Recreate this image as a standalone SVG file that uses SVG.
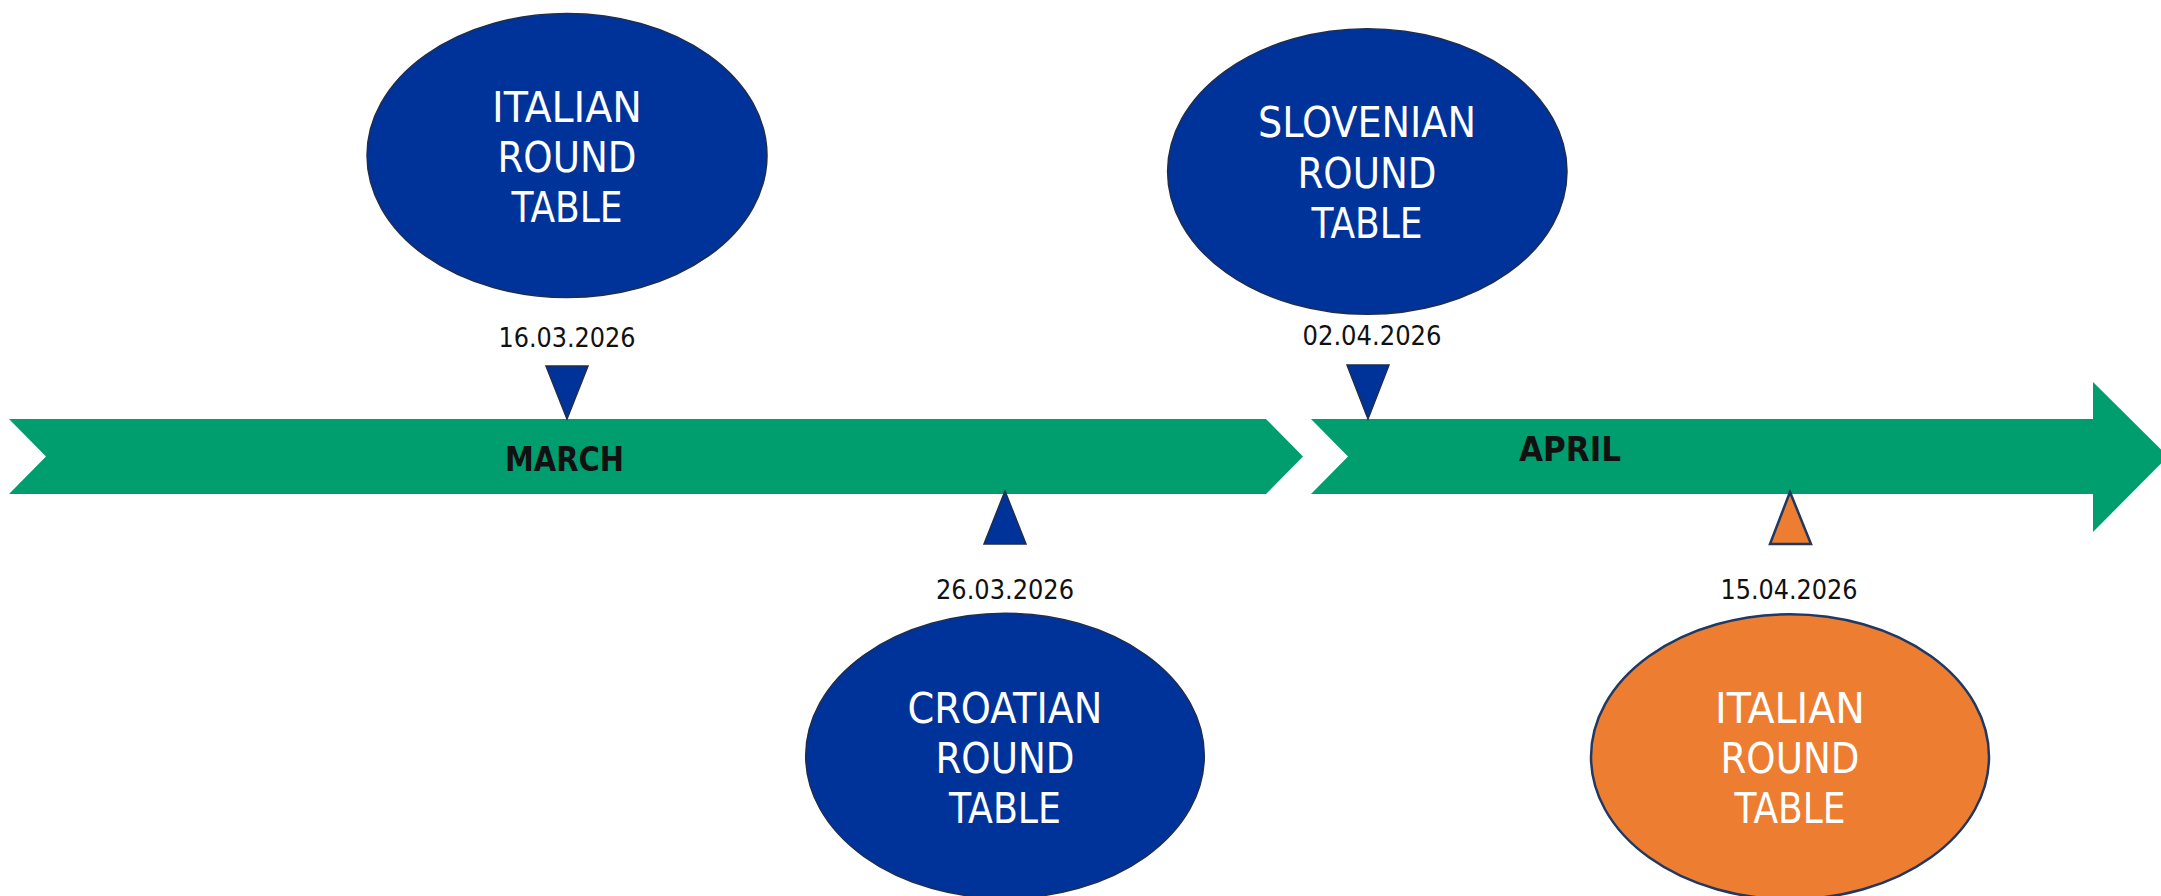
<svg xmlns="http://www.w3.org/2000/svg" width="2161" height="896" viewBox="0 0 2161 896">
<style>
.band{fill:#009E6F}
.month{font-family:"DejaVu Sans Condensed","DejaVu Sans",sans-serif;font-stretch:condensed;font-weight:bold;font-size:33px;fill:#111}
.date{font-family:"DejaVu Sans Condensed","DejaVu Sans",sans-serif;font-stretch:condensed;font-size:27px;fill:#111;text-anchor:middle}
.blue{fill:#003399;stroke:#1F2D4F;stroke-width:1.5}
.orange{fill:#ED7D31;stroke:#1F3864;stroke-width:2.5}
.lbl{font-family:"DejaVu Sans Condensed","DejaVu Sans",sans-serif;font-stretch:condensed;font-size:42px;fill:#fff;text-anchor:middle}
</style>
<rect width="2161" height="896" fill="#fff"/>
<g id="timeline">
<g id="march">
<polygon class="band" points="9,419 1266,419 1303,456.5 1266,494 9,494 46,456.5"/>
<text class="month" x="505" y="470.5" textLength="119" lengthAdjust="spacingAndGlyphs">MARCH</text>
</g>
<g id="april">
<polygon class="band" points="1311,419 2093,419 2093,382 2168,456.5 2093,532 2093,494 1311,494 1348,456.5"/>
<text class="month" x="1519" y="461" textLength="102" lengthAdjust="spacingAndGlyphs">APRIL</text>
</g>
</g>
<g id="connectors">
<polygon class="blue" points="546,366 588,366 567,419"/>
<polygon class="blue" points="1347,365 1389,365 1368,419"/>
<polygon class="blue" points="1005,491 1026,544 984,544"/>
<polygon class="orange" points="1790,492 1811,544 1770,544"/>
</g>
<g id="event-italian-1">
<ellipse class="blue" cx="567" cy="155.5" rx="200" ry="142"/>
<text class="lbl" x="567" y="121.7" textLength="150" lengthAdjust="spacingAndGlyphs">ITALIAN</text>
<text class="lbl" x="567" y="171.7" textLength="139" lengthAdjust="spacingAndGlyphs">ROUND</text>
<text class="lbl" x="567" y="221.7" textLength="111" lengthAdjust="spacingAndGlyphs">TABLE</text>
<text class="date" x="567" y="346.7" textLength="137" lengthAdjust="spacingAndGlyphs">16.03.2026</text>
</g>
<g id="event-slovenian">
<ellipse class="blue" cx="1367.3" cy="171.5" rx="199.7" ry="142.8"/>
<text class="lbl" x="1367" y="137.3" textLength="218" lengthAdjust="spacingAndGlyphs">SLOVENIAN</text>
<text class="lbl" x="1367" y="188.3" textLength="139" lengthAdjust="spacingAndGlyphs">ROUND</text>
<text class="lbl" x="1367" y="238.3" textLength="111" lengthAdjust="spacingAndGlyphs">TABLE</text>
<text class="date" x="1372" y="345" textLength="139" lengthAdjust="spacingAndGlyphs">02.04.2026</text>
</g>
<g id="event-croatian">
<ellipse class="blue" cx="1005" cy="755.8" rx="199.3" ry="142.5"/>
<text class="lbl" x="1005" y="722.7" textLength="195" lengthAdjust="spacingAndGlyphs">CROATIAN</text>
<text class="lbl" x="1005" y="773.3" textLength="139" lengthAdjust="spacingAndGlyphs">ROUND</text>
<text class="lbl" x="1005" y="823.3" textLength="112" lengthAdjust="spacingAndGlyphs">TABLE</text>
<text class="date" x="1005" y="599.3" textLength="138" lengthAdjust="spacingAndGlyphs">26.03.2026</text>
</g>
<g id="event-italian-2">
<ellipse class="orange" cx="1790" cy="756.8" rx="199" ry="142.5"/>
<text class="lbl" x="1790" y="722.7" textLength="150" lengthAdjust="spacingAndGlyphs">ITALIAN</text>
<text class="lbl" x="1790" y="773.3" textLength="139" lengthAdjust="spacingAndGlyphs">ROUND</text>
<text class="lbl" x="1790" y="823.3" textLength="111" lengthAdjust="spacingAndGlyphs">TABLE</text>
<text class="date" x="1789" y="599.3" textLength="137" lengthAdjust="spacingAndGlyphs">15.04.2026</text>
</g>
</svg>
